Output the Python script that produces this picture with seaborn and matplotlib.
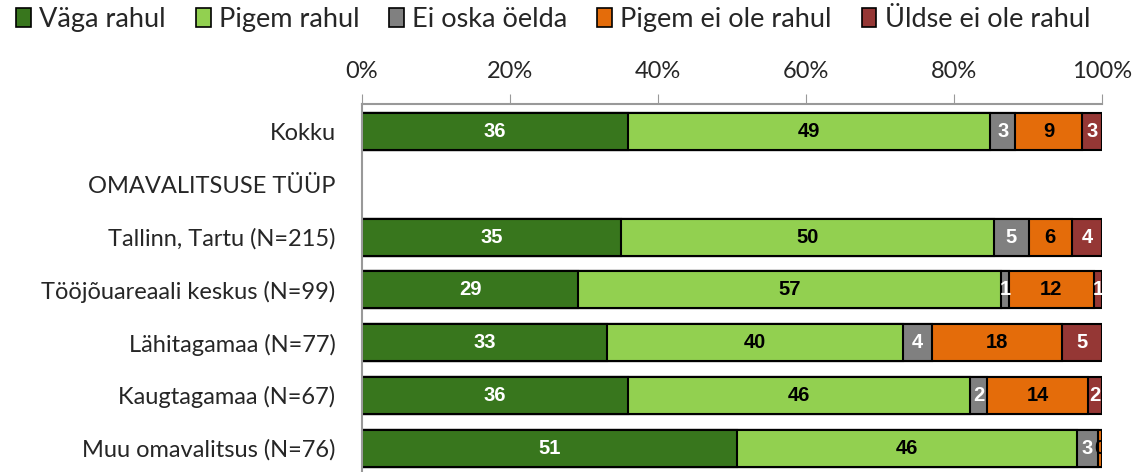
import numpy as np
import pandas as pd
import matplotlib.pyplot as plt
import seaborn as sns
from matplotlib.patches import Patch

# andmed (protsendid, loetud jooniselt)
kategooriad = ["Kokku", "Tallinn, Tartu (N=215)", "Tööjõuareaali keskus (N=99)",
               "Lähitagamaa (N=77)", "Kaugtagamaa (N=67)", "Muu omavalitsus (N=76)"]
vaga_rahul = [35.9, 35.0, 29.2, 33.1, 35.9, 50.7]
pigem_rahul = [49.0, 50.4, 57.2, 40.0, 46.3, 45.9]
ei_oska = [3.4, 4.7, 1.0, 3.9, 2.3, 2.9]
pigem_ei = [9.0, 5.8, 11.5, 17.6, 13.6, 0.49]
uldse_ei = [2.7, 4.1, 1.1, 5.4, 1.9, 0.0]

vastused = ["Väga rahul", "Pigem rahul", "Ei oska öelda", "Pigem ei ole rahul", "Üldse ei ole rahul"]
varvid = ["#38761d", "#92d050", "#808080", "#e46c0a", "#953735"]
teksti_varv = ["white", "black", "white", "black", "white"]
rea_jarjekord = ["Kokku", "OMAVALITSUSE TÜÜP", "Tallinn, Tartu (N=215)", "Tööjõuareaali keskus (N=99)",
                 "Lähitagamaa (N=77)", "Kaugtagamaa (N=67)", "Muu omavalitsus (N=76)"]

df = pd.DataFrame({"kat": kategooriad, vastused[0]: vaga_rahul, vastused[1]: pigem_rahul,
                   vastused[2]: ei_oska, vastused[3]: pigem_ei, vastused[4]: uldse_ei})
kum = df[vastused].cumsum(axis=1)

sns.set_style("white")
plt.rcParams['font.family'] = ['Lato', 'DejaVu Sans']

fig = plt.figure(figsize=(11.41, 4.72), dpi=100)
ax = fig.add_axes([362 / 1141, 0.0, 740 / 1141, 1 - 104 / 472])

# kuhjatud tulbad: joonistame kumulatiivsed summad suuremast väiksemani
for i in range(len(vastused) - 1, -1, -1):
    sns.barplot(x=kum[vastused[i]], y=df["kat"], order=rea_jarjekord, orient="h",
                color=varvid[i], edgecolor="black", linewidth=1.5, width=0.7,
                saturation=1, ax=ax)

# väärtuste sildid
for r, kat in enumerate(kategooriad):
    y = rea_jarjekord.index(kat)
    for i, v in enumerate(vastused):
        val = df.loc[r, v]
        if val <= 0:
            continue
        start = kum.loc[r, v] - val
        ax.text(start + val / 2, y, f"{val:.0f}", ha="center", va="center",
                color=teksti_varv[i], fontsize=14.5, fontweight="bold", clip_on=True,
                family=['Liberation Sans', 'DejaVu Sans'])

ax.set_xlim(0, 100)
ax.set_ylim(6.45, -0.52)
ax.xaxis.tick_top()
ax.set_xticks(np.arange(0, 101, 20))
ax.set_xticklabels([f"{t}%" for t in range(0, 101, 20)], fontsize=17)
ax.tick_params(axis="x", direction="out", length=7, color="#999999", pad=9, top=True)
ax.tick_params(axis="y", length=0, pad=19, labelsize=17)
ax.set_xlabel("")
ax.set_ylabel("")
for s in ["right", "bottom"]:
    ax.spines[s].set_visible(False)
for s in ["top", "left"]:
    ax.spines[s].set_color("#999999")
    ax.spines[s].set_linewidth(1.5)

kasitsejad = [Patch(facecolor=c, edgecolor="black", linewidth=1.2) for c in varvid]
fig.legend(kasitsejad, vastused, loc="upper left", bbox_to_anchor=(0.0, 1.02), ncol=5,
           frameon=False, fontsize=19.5, handlelength=0.55, handleheight=0.7,
           handletextpad=0.3, columnspacing=1.1, borderaxespad=0.2)

fig.savefig("out.png", dpi=100)
